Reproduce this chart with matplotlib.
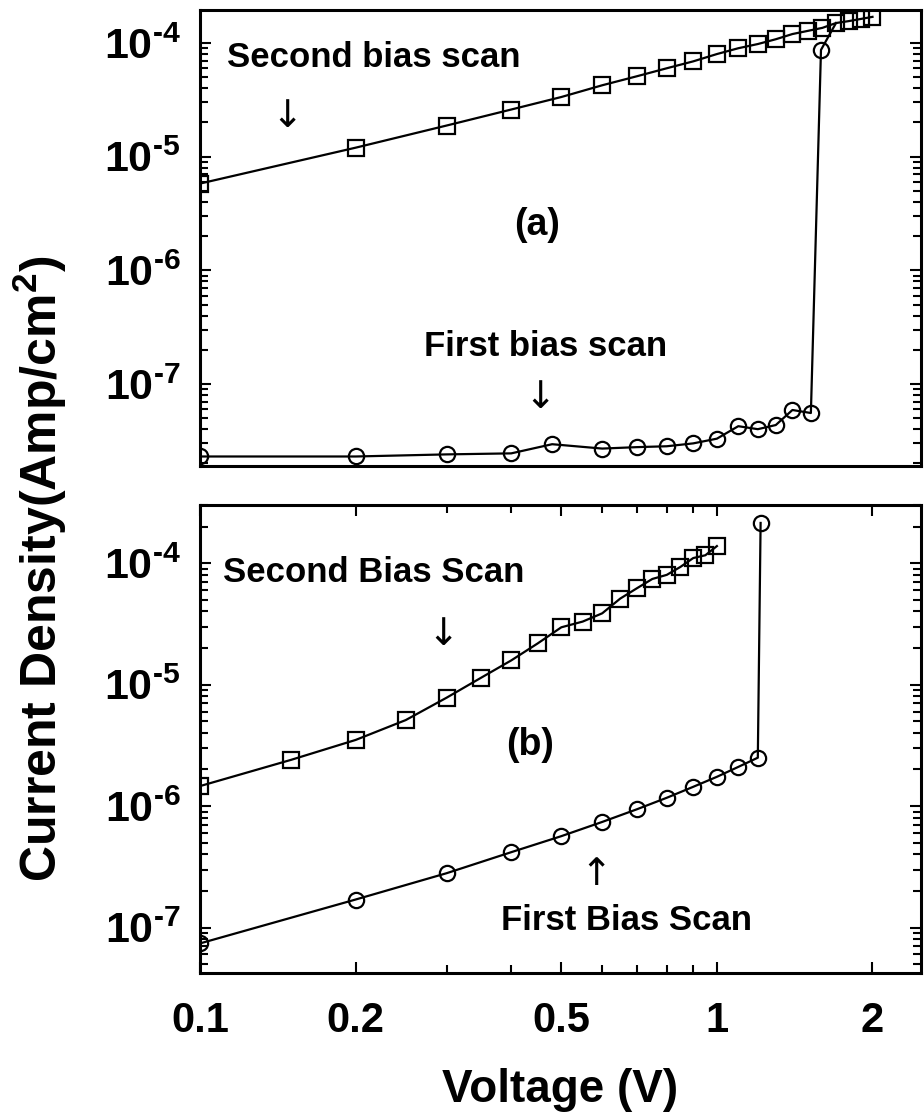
import math
import matplotlib
matplotlib.use('Agg')
import matplotlib.pyplot as plt
from matplotlib.ticker import FixedLocator, FuncFormatter, NullFormatter, LogLocator

plt.rcParams['font.family'] = ['Liberation Sans', 'DejaVu Sans']
plt.rcParams['font.weight'] = 'bold'
plt.rcParams['mathtext.fontset'] = 'custom'
plt.rcParams['mathtext.rm'] = 'Liberation Sans:bold'
plt.rcParams['mathtext.bf'] = 'Liberation Sans:bold'
plt.rcParams['mathtext.it'] = 'Liberation Sans:bold'

# (a) first bias scan (circles)
v_first_a = [0.1, 0.2, 0.3, 0.4, 0.48, 0.6, 0.7, 0.8, 0.9, 1.0, 1.1, 1.2, 1.3, 1.4, 1.52, 1.59, 1.7]
j_first_a = [2.3e-8, 2.3e-8, 2.4e-8, 2.45e-8, 2.95e-8, 2.7e-8, 2.78e-8, 2.83e-8, 3.0e-8, 3.3e-8,
             4.25e-8, 4.0e-8, 4.35e-8, 5.9e-8, 5.55e-8, 8.7e-5, 1.5e-4]
# (a) second bias scan (squares)
v_second_a = [0.1, 0.2, 0.3, 0.4, 0.5, 0.6, 0.7, 0.8, 0.9, 1.0, 1.1, 1.2, 1.3, 1.4, 1.5, 1.6, 1.7, 1.8, 1.9, 2.0]
j_second_a = [5.8e-6, 1.2e-5, 1.88e-5, 2.6e-5, 3.35e-5, 4.25e-5, 5.1e-5, 6.0e-5, 6.9e-5, 8.0e-5,
              9.0e-5, 9.8e-5, 1.08e-4, 1.2e-4, 1.28e-4, 1.36e-4, 1.5e-4, 1.56e-4, 1.63e-4, 1.7e-4]

# (b) first bias scan (circles)
v_first_b = [0.1, 0.2, 0.3, 0.4, 0.5, 0.6, 0.7, 0.8, 0.9, 1.0, 1.1, 1.2, 1.215]
j_first_b = [7.4e-8, 1.7e-7, 2.8e-7, 4.17e-7, 5.65e-7, 7.4e-7, 9.4e-7, 1.17e-6, 1.44e-6, 1.74e-6,
             2.1e-6, 2.5e-6, 2.14e-4]
# (b) second bias scan (squares)
v_second_b = [0.1, 0.15, 0.2, 0.25, 0.3, 0.35, 0.4, 0.45, 0.5, 0.55, 0.6, 0.65, 0.7, 0.75, 0.8,
              0.85, 0.9, 0.95, 1.0]
j_second_b = [1.46e-6, 2.4e-6, 3.5e-6, 5.1e-6, 7.8e-6, 1.14e-5, 1.58e-5, 2.18e-5, 2.96e-5, 3.3e-5,
              3.86e-5, 5.1e-5, 6.2e-5, 7.4e-5, 8.0e-5, 9.3e-5, 1.1e-4, 1.16e-4, 1.38e-4]

x_major = [0.1, 0.2, 0.5, 1, 2]
x_minor = [0.3, 0.4, 0.6, 0.7, 0.8, 0.9]
x_labels = ['0.1', '0.2', '0.5', '1', '2']

fig = plt.figure(figsize=(9.24, 11.2), dpi=100)
ax1 = fig.add_axes([0.2165, 0.584, 0.780, 0.407])
ax2 = fig.add_axes([0.2165, 0.131, 0.780, 0.418])

line_kw = dict(color='black', lw=1.6, markersize=11, markerfacecolor='none',
               markeredgecolor='black', markeredgewidth=1.6)

ax1.plot(v_second_a, j_second_a, marker='s', **line_kw)
# last point only carries the line up onto the second-scan curve
ax1.plot(v_first_a, j_first_a, marker='o', markevery=list(range(len(v_first_a) - 1)), **line_kw)
ax2.plot(v_second_b, j_second_b, marker='s', **line_kw)
ax2.plot(v_first_b, j_first_b, marker='o', **line_kw)

ax1.set_ylim(1.9e-8, 1.95e-4)
ax2.set_ylim(4.2e-8, 3.0e-4)

# hyphen instead of the long math minus, as in the original
yfmt = FuncFormatter(lambda v, p: r'$\mathbf{10^{\text{-}%d}}$' % abs(round(math.log10(v))))
for ax in (ax1, ax2):
    ax.set_xscale('log')
    ax.set_yscale('log')
    ax.set_xlim(0.1, 2.48)
    ax.yaxis.set_major_locator(FixedLocator([1e-7, 1e-6, 1e-5, 1e-4]))
    ax.yaxis.set_minor_locator(LogLocator(base=10, subs=range(2, 10), numticks=20))
    ax.yaxis.set_major_formatter(yfmt)
    ax.yaxis.set_minor_formatter(NullFormatter())
    ax.tick_params(axis='y', which='both', direction='in', left=True, right=True, width=1.5)
    ax.tick_params(axis='y', which='major', length=8, labelsize=31, pad=14)
    ax.tick_params(axis='y', which='minor', length=5.5)
    for s in ax.spines.values():
        s.set_linewidth(2.2)

# top panel: no x ticks
ax1.tick_params(axis='x', which='both', bottom=False, top=False, labelbottom=False)
ax2.xaxis.set_major_locator(FixedLocator(x_major))
ax2.xaxis.set_minor_locator(FixedLocator(x_minor))
ax2.xaxis.set_major_formatter(FuncFormatter(lambda v, p: x_labels[x_major.index(v)] if v in x_major else ''))
ax2.xaxis.set_minor_formatter(NullFormatter())
ax2.tick_params(axis='x', which='both', direction='in', bottom=True, top=True, width=1.5)
ax2.tick_params(axis='x', which='major', length=8, labelsize=30, pad=20)
ax2.tick_params(axis='x', which='minor', length=6)

arrow_kw = dict(fontsize=27, fontweight='normal', family='DejaVu Sans', ha='center', va='center')

# annotations
ax1.text(0.037, 0.895, 'Second bias scan', transform=ax1.transAxes, fontsize=25, ha='left', va='center')
ax1.text(0.121, 0.765, '\u2193', transform=ax1.transAxes, **arrow_kw)
ax1.text(0.467, 0.529, '(a)', transform=ax1.transAxes, fontsize=27, ha='center', va='center')
ax1.text(0.479, 0.261, 'First bias scan', transform=ax1.transAxes, fontsize=25, ha='center', va='center')
ax1.text(0.472, 0.149, '\u2193', transform=ax1.transAxes, **arrow_kw)

ax2.text(0.032, 0.857, 'Second Bias Scan', transform=ax2.transAxes, fontsize=25, ha='left', va='center')
ax2.text(0.337, 0.722, '\u2193', transform=ax2.transAxes, **arrow_kw)
ax2.text(0.458, 0.487, '(b)', transform=ax2.transAxes, fontsize=27, ha='center', va='center')
ax2.text(0.549, 0.209, '\u2191', transform=ax2.transAxes, **arrow_kw)
ax2.text(0.592, 0.113, 'First Bias Scan', transform=ax2.transAxes, fontsize=25, ha='center', va='center')

fig.text(0.043, 0.492, 'Current Density(Amp/cm$^\\mathbf{2}$)', rotation=90, fontsize=36,
         ha='center', va='center')
fig.text(0.606, 0.027, 'Voltage (V)', fontsize=33, ha='center', va='center')

fig.savefig('out.png', dpi=100)
